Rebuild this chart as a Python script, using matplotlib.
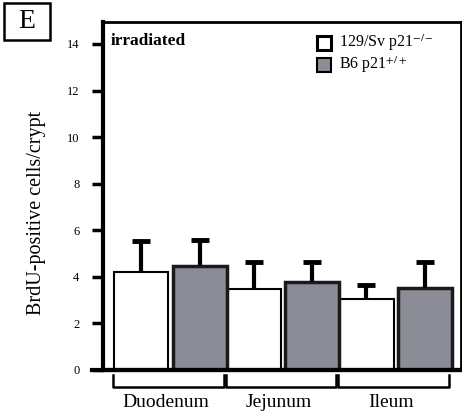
import matplotlib
matplotlib.use('Agg')
import matplotlib.pyplot as plt
from matplotlib.patches import Rectangle
import numpy as np

plt.rcParams['font.family'] = ['Liberation Serif', 'DejaVu Serif']
plt.rcParams['mathtext.fontset'] = 'stix'

# data
regions = ['Duodenum', 'Jejunum', 'Ileum']
ko_mean = [4.22, 3.47, 3.05]     # 129/Sv p21-/-
ko_err = [1.33, 1.18, 0.60]
wt_mean = [4.47, 3.79, 3.50]     # B6 p21+/+
wt_err = [1.11, 0.86, 1.15]
yticks = [0, 2, 4, 6, 8, 10, 12, 14]
legend_labels = [r'129/Sv p21$^{-/-}$', r'B6 p21$^{+/+}$']

gray = '#8c8c96'

fig = plt.figure(figsize=(4.62, 4.17), dpi=100)
ax = fig.add_axes([0.223, 0.113, 0.775, 0.834])

x = np.arange(len(regions))
w = 0.48
ax.bar(x - 0.27, ko_mean, w, color='white', edgecolor='black', linewidth=1.5, zorder=2)
ax.bar(x + 0.25, wt_mean, w, color=gray, edgecolor='#1a1a1a', linewidth=2.5, zorder=2)

# upper error bars only, T shaped
for xs, m, e in [(x - 0.27, ko_mean, ko_err), (x + 0.25, wt_mean, wt_err)]:
    tops = np.array(m) + np.array(e)
    ax.vlines(xs, m, tops, color='black', lw=3, zorder=3)
    ax.plot(xs, tops, ls='none', marker='_', ms=13, mew=3.5, color='black', zorder=3)

ax.set_xlim(-0.61, 2.57)
ax.set_ylim(0, 14.94)
ax.set_xticks([])
ax.set_yticks(yticks)
ax.set_yticklabels([str(t) for t in yticks], fontsize=9)
ax.tick_params(axis='y', length=8, width=2.5, pad=9)

ax.spines['left'].set_linewidth(3)
ax.spines['bottom'].set_linewidth(3)
ax.spines['top'].set_linewidth(2)
ax.spines['right'].set_linewidth(2)

# axis line at the bottom runs a bit past the left spine
ax.plot([-0.71, 2.57], [0, 0], color='black', lw=3, clip_on=False, zorder=4)

# brackets under each region
for i, name in enumerate(regions):
    lo, hi = i - 0.52, i + 0.46
    ax.plot([lo, lo, hi, hi], [-0.2, -0.75, -0.75, -0.2], color='black', lw=1.8,
            clip_on=False)
    ax.text((lo + hi) / 2 - 0.02, -1.05, name, ha='center', va='top', fontsize=14)

ax.text(0.02, 0.968, 'irradiated', transform=ax.transAxes, ha='left', va='top',
        fontsize=12.5, fontweight='bold')

# legend drawn by hand
leg_y = [0.94, 0.877]
for yy, lab, fc, lw in zip(leg_y, legend_labels, ['white', gray], [2.2, 1.5]):
    ax.add_patch(Rectangle((0.598, yy - 0.02), 0.039, 0.04, transform=ax.transAxes,
                           facecolor=fc, edgecolor='black', linewidth=lw, clip_on=False))
    ax.text(0.66, yy, lab, transform=ax.transAxes, ha='left', va='center', fontsize=11.5)

fig.text(0.08, 0.49, 'BrdU-positive cells/crypt', rotation=90, ha='center', va='center',
         fontsize=14.5)

# panel letter
fig.patches.append(Rectangle((0.008, 0.905), 0.1, 0.088, transform=fig.transFigure,
                             facecolor='white', edgecolor='black', linewidth=1.8))
fig.text(0.058, 0.949, 'E', ha='center', va='center', fontsize=20)

fig.savefig('out.png', dpi=100)
